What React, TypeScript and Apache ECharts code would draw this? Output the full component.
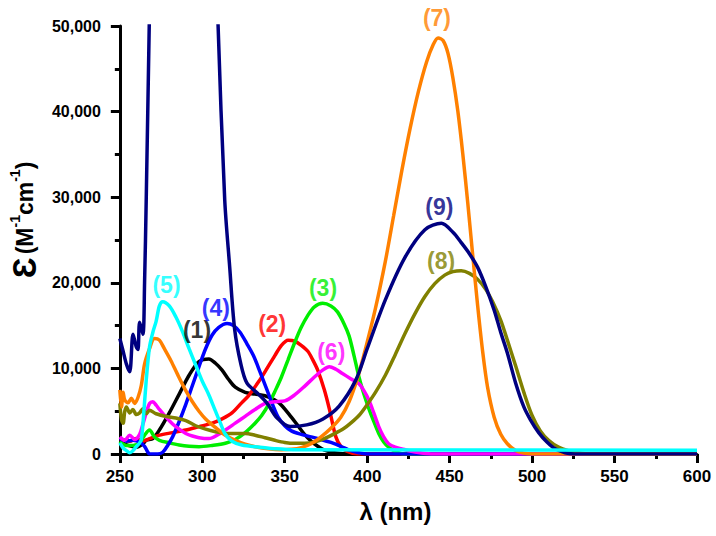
import React, { useEffect, useRef } from "react";
import * as echarts from "echarts";

// wavelength (nm), epsilon (M^-1 cm^-1)
const curve1: [number, number][] = [
  [250, 1500], [255, 1000], [260, 800], [264, 1200], [266, 1600], [270, 1800], [274, 2800], [280, 4800],
  [286, 7000], [292, 9200], [298, 10800], [304, 11100], [308, 10600], [312, 9800], [316, 8700], [320, 7800],
  [326, 7200], [332, 7000], [338, 6800], [344, 6300], [348, 5700], [354, 4300], [358, 3300], [362, 2300],
  [366, 1500], [370, 900], [374, 450], [380, 150], [390, 0], [600, 0],
];
const curve2: [number, number][] = [
  [250, 1800], [256, 1500], [260, 1800], [264, 1500], [268, 1800], [274, 2200], [282, 2500], [290, 2800],
  [298, 3200], [306, 3600], [312, 4100], [318, 4800], [324, 6000], [328, 6800], [334, 8400], [338, 9600],
  [344, 11500], [348, 12700], [352, 13300], [356, 13200], [360, 12700], [364, 12000], [367, 11000],
  [370, 9800], [374, 7500], [377, 5300], [381, 2000], [384, 900], [388, 300], [394, 0], [600, 0],
];
const curve3: [number, number][] = [
  [250, 1500], [254, 1000], [258, 1000], [262, 1300], [265, 2200], [268, 2800], [271, 2000], [274, 1600],
  [280, 1300], [286, 1050], [292, 900], [298, 850], [306, 1000], [314, 1250], [320, 1700], [326, 2500],
  [332, 3600], [336, 4500], [340, 5700], [344, 7300], [348, 9000], [352, 11000], [356, 13000], [360, 14800],
  [364, 16200], [368, 17200], [373, 17600], [378, 17300], [382, 16600], [386, 15200], [389, 13800],
  [392, 11500], [395, 9000], [398, 7000], [401, 5300], [404, 3800], [407, 2400], [410, 1400], [413, 800],
  [417, 300], [422, 0], [600, 0],
];
const curve4: [number, number][] = [
  [250, 1800], [254, 1500], [258, 1600], [262, 1400], [265, 900], [267, 200], [268, 0], [273, 0],
  [276, 200], [279, 1000], [282, 2000], [286, 3800], [290, 5800], [294, 8000], [298, 10200], [302, 12300],
  [306, 13900], [310, 14800], [315, 15250], [319, 15000], [323, 14200], [327, 12900], [331, 11500],
  [335, 9600], [339, 7600], [343, 5600], [346, 4300], [350, 3300], [354, 2700], [360, 2300], [366, 2000],
  [372, 1700], [378, 1350], [384, 900], [389, 450], [395, 150], [400, 0], [600, 0],
];
const curve5: [number, number][] = [
  [250, 1300], [252, 700], [254, 400], [256, 150], [258, 400], [260, 850], [262, 1300], [263, 1700],
  [264, 3500], [266, 8600], [268, 12500], [270, 14200], [272, 15500], [274, 17300], [276, 17800],
  [280, 17300], [284, 16000], [288, 14300], [292, 12300], [296, 10400], [300, 8500], [304, 6900],
  [308, 5000], [311, 3600], [314, 2300], [318, 1500], [324, 1050], [335, 800], [345, 600], [355, 500],
  [600, 450],
];
const curve6: [number, number][] = [
  [250, 2000], [253, 1600], [256, 2200], [259, 1700], [262, 2300], [264, 3500], [266, 4800], [268, 5900],
  [270, 6100], [272, 5700], [274, 5200], [278, 4300], [282, 3500], [286, 2900], [290, 2400], [294, 2100],
  [298, 1900], [304, 1800], [310, 2300], [314, 2800], [320, 3600], [326, 4400], [332, 5200], [338, 5900],
  [344, 6100], [350, 6200], [356, 6900], [362, 7900], [368, 9000], [373, 9800], [377, 10200], [381, 9900],
  [385, 9400], [390, 8800], [395, 8200], [398, 7400], [401, 6300], [404, 4800], [407, 3200], [410, 2000],
  [413, 1200], [417, 800], [421, 600], [426, 350], [432, 150], [440, 0], [600, 0],
];
const curve7: [number, number][] = [
  [250, 7500], [251, 5500], [252, 7200], [253, 6300], [255, 6000], [257, 6500], [259, 5900], [261, 6600],
  [263, 8000], [265, 10500], [268, 12300], [271, 13500], [274, 13300], [277, 12300], [281, 10900],
  [285, 9300], [290, 7400], [294, 6100], [298, 5000], [302, 4100], [308, 3100], [314, 2200], [320, 1600],
  [326, 1150], [332, 850], [340, 600], [348, 500], [354, 550], [360, 750], [366, 1200], [372, 2000],
  [378, 3000], [384, 4300], [389, 6100], [394, 8800], [399, 12300], [405, 17000], [411, 22500],
  [416, 27800], [421, 33100], [426, 38000], [431, 42300], [436, 45800], [440, 47800], [443, 48600],
  [446, 48300], [449, 46800], [452, 43900], [455, 40000], [458, 35000], [461, 29300], [464, 23200],
  [467, 17300], [470, 12000], [473, 7800], [477, 4300], [481, 2300], [485, 1200], [490, 400], [495, 100],
  [500, 0], [600, 0],
];
const curve8: [number, number][] = [
  [250, 5900], [251, 4000], [252, 3600], [253, 5000], [254, 5500], [256, 4800], [258, 5200], [260, 4600],
  [262, 4800], [264, 5300], [266, 4700], [268, 5100], [272, 4700], [278, 4400], [284, 4200], [290, 3900],
  [296, 3300], [302, 2900], [308, 2600], [314, 2400], [320, 2400], [326, 2400], [332, 2200], [338, 1900],
  [344, 1600], [350, 1350], [356, 1250], [362, 1250], [368, 1400], [374, 1800], [380, 2350], [386, 3000],
  [390, 3600], [395, 4500], [399, 5500], [405, 7200], [411, 9200], [417, 11600], [423, 14100],
  [429, 16400], [435, 18400], [441, 19900], [447, 20900], [452, 21300], [457, 21400], [462, 21100],
  [467, 20400], [472, 19200], [476, 17800], [481, 15600], [485, 13300], [490, 10300], [495, 7200],
  [500, 4500], [505, 2700], [510, 1600], [516, 800], [522, 400], [530, 100], [536, 0], [600, 0],
];
const curve9: [number, number][] = [
  [250, 13500], [252, 12000], [254, 10500], [256, 9600], [258, 14000], [260, 12500], [261, 12200],
  [262, 15400], [264, 14000], [265, 20000], [266, 29700], [268, 52000], [270, 75000], [290, 95000],
  [306, 75000], [309.5, 50500], [313.6, 29700], [316.6, 21900], [319.6, 14600], [323.5, 10400],
  [327, 8300], [333.5, 7100], [339.4, 5900], [345.4, 4200], [353.3, 3200], [363.3, 3400], [373.2, 4100],
  [383, 5600], [393, 8600], [400, 12300], [411, 18000], [423, 23000], [435, 26200], [445, 26950],
  [452, 25900], [457, 24700], [462, 23400], [467, 21800], [472, 19500], [477, 16800], [481, 14200],
  [485, 11800], [490, 8300], [495, 5500], [499, 4000], [504, 2500], [509, 1400], [514, 600], [520, 150],
  [526, 0], [600, 0],
];

const seriesNames = ["(1)", "(2)", "(3)", "(4)", "(5)", "(6)", "(7)", "(8)", "(9)"];
const seriesData = [curve1, curve2, curve3, curve4, curve5, curve6, curve7, curve8, curve9];
const seriesColors = ["#000000", "#ff0000", "#00ee00", "#0000ff", "#00ffff", "#ff00ff", "#ff8000", "#808000", "#000080"];
const drawOrder = [0, 1, 2, 3, 5, 7, 6, 8, 4];

// label anchor positions (nm, epsilon)
const labelX = [296.8, 342.4, 373.2, 308.2, 278.3, 378.2, 442.3, 444.8, 443.8];
const labelY = [14500, 15200, 19400, 17000, 19700, 11900, 50900, 22500, 28800];

const xMin = 250, xMax = 600, xStep = 50;
const yMin = 0, yMax = 50000, yStep = 10000;

const FONT = "'Liberation Sans', Arial, sans-serif";

export default function App() {
  const ref = useRef<HTMLDivElement>(null);
  useEffect(() => {
    if (!ref.current) return;
    const chart = echarts.init(ref.current, undefined, { renderer: "svg" });
    const lineSeries = drawOrder.map((i) => ({
      type: "line",
      name: seriesNames[i],
      data: seriesData[i],
      showSymbol: false,
      smooth: 0.3,
      clip: true,
      lineStyle: { color: seriesColors[i], width: 3.5 },
      itemStyle: { color: seriesColors[i] },
      z: 2,
    }));
    const labelSeries = {
      type: "scatter",
      symbolSize: 0,
      clip: false,
      silent: true,
      z: 5,
      data: seriesNames.map((n, i) => ({
        value: [labelX[i], labelY[i]],
        label: {
          show: true,
          position: "inside",
          formatter: n,
          color: seriesColors[i],
          fontSize: 23,
          fontWeight: "bold",
          fontFamily: FONT,
        },
      })),
    };
    chart.setOption({
      animation: false,
      backgroundColor: "#ffffff",
      grid: { left: 110, right: 19, top: 26, bottom: 82, containLabel: false },
      xAxis: {
        type: "value",
        min: xMin,
        max: xMax,
        interval: xStep,
        name: "λ (nm)",
        nameLocation: "middle",
        nameGap: 45,
        nameTextStyle: { fontSize: 24, fontWeight: "bold", color: "#000", fontFamily: FONT, padding: [0, 26, 0, 0] },
        axisLine: { show: true, lineStyle: { color: "#000", width: 3 } },
        axisTick: { show: true, length: 9, lineStyle: { color: "#000", width: 3 } },
        minorTick: { show: true, splitNumber: 2, length: 5, lineStyle: { color: "#000", width: 3 } },
        axisLabel: { fontSize: 17, fontWeight: "bold", color: "#000", fontFamily: FONT, margin: 14 },
        splitLine: { show: false },
        minorSplitLine: { show: false },
      },
      yAxis: {
        type: "value",
        min: yMin,
        max: yMax,
        interval: yStep,
        name: "{e|Ɛ} {b|(M}{s|-1}{b|cm}{s|-1}{b|)}",
        nameLocation: "middle",
        nameGap: 76,
        nameTextStyle: {
          color: "#000",
          fontFamily: FONT,
          padding: [0, 0, 0, 40],
          rich: {
            e: { fontSize: 33, fontWeight: "bold", color: "#000", fontFamily: FONT },
            b: { fontSize: 23, fontWeight: "bold", color: "#000", fontFamily: FONT },
            s: { fontSize: 14, fontWeight: "bold", color: "#000", fontFamily: FONT, verticalAlign: "top", padding: [0, 0, 10, 0] },
          },
        },
        axisLine: { show: true, lineStyle: { color: "#000", width: 3 } },
        axisTick: { show: true, length: 9, lineStyle: { color: "#000", width: 3 } },
        minorTick: { show: true, splitNumber: 2, length: 5, lineStyle: { color: "#000", width: 3 } },
        axisLabel: {
          fontSize: 16,
          fontWeight: "bold",
          color: "#000",
          fontFamily: FONT,
          margin: 19,
          formatter: (v: number) => v.toLocaleString("en-US"),
        },
        splitLine: { show: false },
        minorSplitLine: { show: false },
      },
      series: [...lineSeries, labelSeries],
    });
    return () => chart.dispose();
  }, []);
  return <div ref={ref} style={{ width: 716, height: 536, position: "absolute", left: 0, top: 0 }} />;
}
